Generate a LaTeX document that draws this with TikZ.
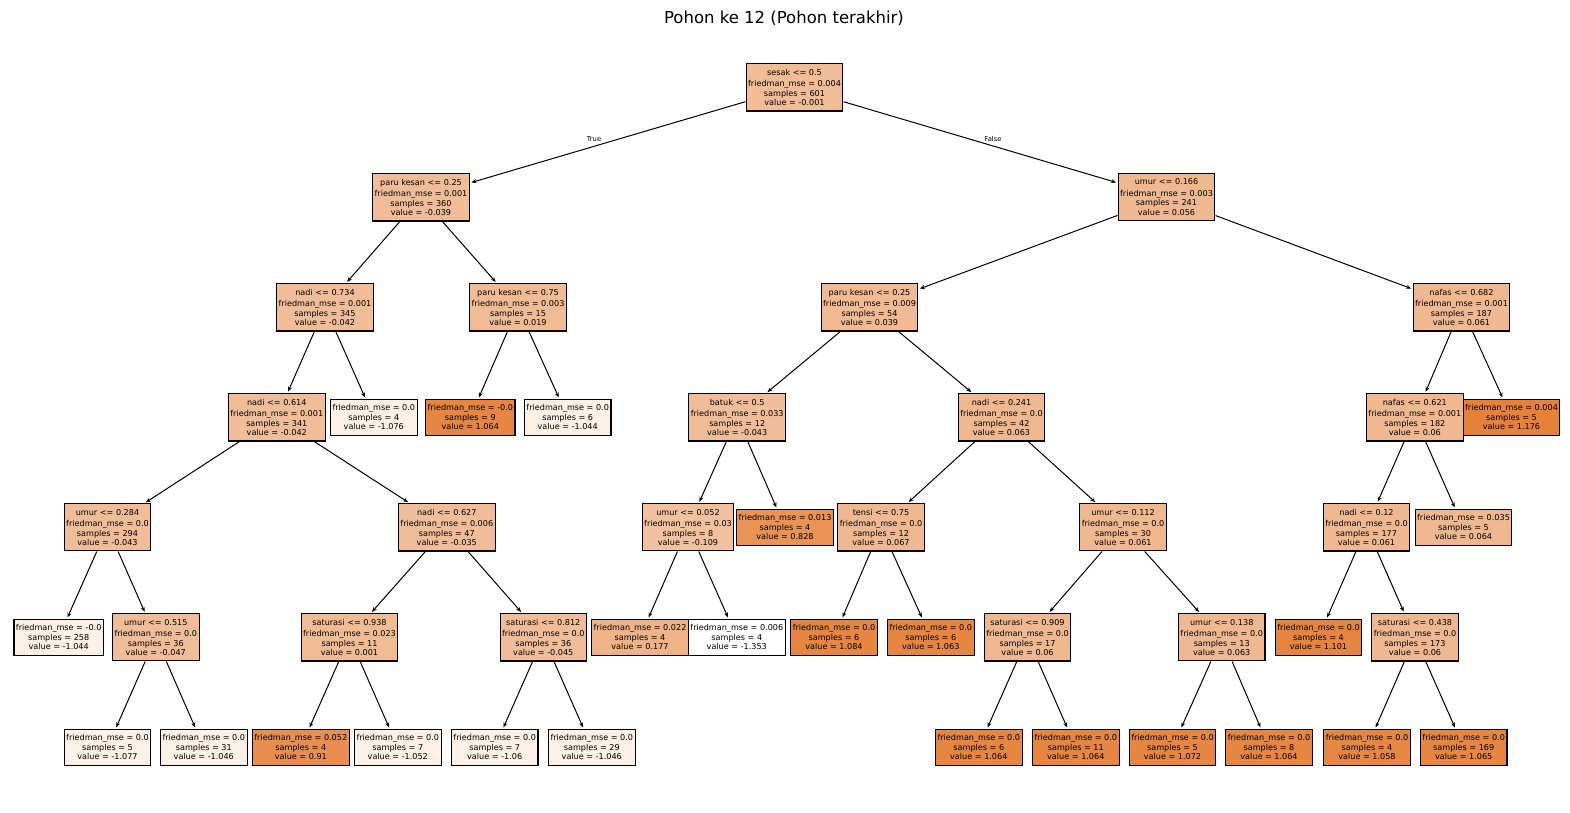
\documentclass[tikz,border=0pt]{standalone}
\usepackage{fontspec}
\setmainfont{DejaVu Sans}
\usetikzlibrary{arrows.meta}
\definecolor{skor}{RGB}{229,129,57}
\newcommand\mysplit[4]{#1\\[2pt]friedman\_mse = #2\\samples = #3\\value = #4}
\newcommand\myleaf[3]{friedman\_mse = #1\\samples = #2\\value = #3}
\tikzset{
  tn/.style={draw=black, line width=1.1pt, align=center,
    font=\fontsize{8.1}{9.5}\selectfont, inner xsep=2pt, inner ysep=5.3pt},
  v/.code={\pgfmathtruncatemacro\pct{round((#1+1.353)/2.529*100)}%
    \edef\tmpcol{\noexpand\pgfkeysalso{fill=skor!\pct!white}}\tmpcol},
  edge/.style={draw, line width=1pt, -{Stealth[length=5pt,width=4pt]}, shorten >=1.5pt},
  lbl/.style={font=\fontsize{6.8}{8}\selectfont, inner sep=0pt},
}
\begin{document}
\begin{tikzpicture}[x=1pt,y=1pt]
\useasboundingbox (0,0) rectangle (1570,812);
\node[font=\fontsize{16.5}{20}\selectfont] (title) at (784,794) {Pohon ke 12 (Pohon terakhir)};
% level 0
\node[tn,v=-0.001] (n0) at (794.5,724.7) {\mysplit{sesak <= 0.5}{0.004}{601}{-0.001}};
% level 1
\node[tn,v=-0.039] (n1) at (421,614.7) {\mysplit{paru kesan <= 0.25}{0.001}{360}{-0.039}};
\node[tn,v=0.056] (n2) at (1166.5,614.7) {\mysplit{umur <= 0.166}{0.003}{241}{0.056}};
% level 2
\node[tn,v=-0.042] (n3) at (325,504.7) {\mysplit{nadi <= 0.734}{0.001}{345}{-0.042}};
\node[tn,v=0.019] (n4) at (518,504.7) {\mysplit{paru kesan <= 0.75}{0.003}{15}{0.019}};
\node[tn,v=0.039] (n5) at (869.5,504.7) {\mysplit{paru kesan <= 0.25}{0.009}{54}{0.039}};
\node[tn,v=0.061] (n6) at (1461.5,504.7) {\mysplit{nafas <= 0.682}{0.001}{187}{0.061}};
% level 3
\node[tn,v=-0.042] (n7) at (276.8,394.7) {\mysplit{nadi <= 0.614}{0.001}{341}{-0.042}};
\node[tn,v=-1.076] (n8) at (373.8,394.7) {\myleaf{0.0}{4}{-1.076}};
\node[tn,v=1.064] (n9) at (470.3,394.7) {\myleaf{-0.0}{9}{1.064}};
\node[tn,v=-1.044] (n10) at (567.7,394.7) {\myleaf{0.0}{6}{-1.044}};
\node[tn,v=-0.043] (n11) at (737.2,394.7) {\mysplit{batuk <= 0.5}{0.033}{12}{-0.043}};
\node[tn,v=0.063] (n12) at (1001.5,394.7) {\mysplit{nadi <= 0.241}{0.0}{42}{0.063}};
\node[tn,v=0.06] (n13) at (1414.8,394.7) {\mysplit{nafas <= 0.621}{0.001}{182}{0.06}};
\node[tn,v=1.176] (n14) at (1511.5,394.7) {\myleaf{0.004}{5}{1.176}};
% level 4
\node[tn,v=-0.043] (n15) at (107.5,284.7) {\mysplit{umur <= 0.284}{0.0}{294}{-0.043}};
\node[tn,v=-0.035] (n16) at (446.8,284.7) {\mysplit{nadi <= 0.627}{0.006}{47}{-0.035}};
\node[tn,v=-0.109] (n17) at (688,284.7) {\mysplit{umur <= 0.052}{0.03}{8}{-0.109}};
\node[tn,v=0.828] (n18) at (785,284.7) {\myleaf{0.013}{4}{0.828}};
\node[tn,v=0.067] (n19) at (881,284.7) {\mysplit{tensi <= 0.75}{0.0}{12}{0.067}};
\node[tn,v=0.061] (n20) at (1123,284.7) {\mysplit{umur <= 0.112}{0.0}{30}{0.061}};
\node[tn,v=0.061] (n21) at (1366.5,284.7) {\mysplit{nadi <= 0.12}{0.0}{177}{0.061}};
\node[tn,v=0.064] (n22) at (1463.5,284.7) {\myleaf{0.035}{5}{0.064}};
% level 5
\node[tn,v=-1.044] (n23) at (58.7,174.7) {\myleaf{-0.0}{258}{-1.044}};
\node[tn,v=-0.047] (n24) at (155.8,174.7) {\mysplit{umur <= 0.515}{0.0}{36}{-0.047}};
\node[tn,v=0.001] (n25) at (349.5,174.7) {\mysplit{saturasi <= 0.938}{0.023}{11}{0.001}};
\node[tn,v=-0.045] (n26) at (543.3,174.7) {\mysplit{saturasi <= 0.812}{0.0}{36}{-0.045}};
\node[tn,v=0.177] (n27) at (640,174.7) {\myleaf{0.022}{4}{0.177}};
\node[tn,v=-1.353] (n28) at (736.8,174.7) {\myleaf{0.006}{4}{-1.353}};
\node[tn,v=1.084] (n29) at (834,174.7) {\myleaf{0.0}{6}{1.084}};
\node[tn,v=1.063] (n30) at (930.8,174.7) {\myleaf{0.0}{6}{1.063}};
\node[tn,v=0.06] (n31) at (1027.5,174.7) {\mysplit{saturasi <= 0.909}{0.0}{17}{0.06}};
\node[tn,v=0.063] (n32) at (1221.7,174.7) {\mysplit{umur <= 0.138}{0.0}{13}{0.063}};
\node[tn,v=1.101] (n33) at (1318.5,174.7) {\myleaf{0.0}{4}{1.101}};
\node[tn,v=0.06] (n34) at (1415,174.7) {\mysplit{saturasi <= 0.438}{0.0}{173}{0.06}};
% level 6
\node[tn,v=-1.077] (n35) at (107.5,64.7) {\myleaf{0.0}{5}{-1.077}};
\node[tn,v=-1.046] (n36) at (203.8,64.7) {\myleaf{0.0}{31}{-1.046}};
\node[tn,v=0.91] (n37) at (300.8,64.7) {\myleaf{0.052}{4}{0.91}};
\node[tn,v=-1.052] (n38) at (397.8,64.7) {\myleaf{0.0}{7}{-1.052}};
\node[tn,v=-1.06] (n39) at (494.7,64.7) {\myleaf{0.0}{7}{-1.06}};
\node[tn,v=-1.046] (n40) at (591.8,64.7) {\myleaf{0.0}{29}{-1.046}};
\node[tn,v=1.064] (n41) at (978.8,64.7) {\myleaf{0.0}{6}{1.064}};
\node[tn,v=1.064] (n42) at (1075.8,64.7) {\myleaf{0.0}{11}{1.064}};
\node[tn,v=1.072] (n43) at (1172.5,64.7) {\myleaf{0.0}{5}{1.072}};
\node[tn,v=1.064] (n44) at (1269,64.7) {\myleaf{0.0}{8}{1.064}};
\node[tn,v=1.058] (n45) at (1367,64.7) {\myleaf{0.0}{4}{1.058}};
\node[tn,v=1.065] (n46) at (1463.7,64.7) {\myleaf{0.0}{169}{1.065}};
% edges
\foreach \a/\b in {n0/n1,n0/n2,n1/n3,n1/n4,n2/n5,n2/n6,n3/n7,n3/n8,n4/n9,n4/n10,
  n5/n11,n5/n12,n6/n13,n6/n14,n7/n15,n7/n16,n11/n17,n11/n18,n12/n19,n12/n20,
  n13/n21,n13/n22,n15/n23,n15/n24,n16/n25,n16/n26,n17/n27,n17/n28,n19/n29,n19/n30,
  n20/n31,n20/n32,n21/n33,n21/n34,n24/n35,n24/n36,n25/n37,n25/n38,n26/n39,n26/n40,
  n31/n41,n31/n42,n32/n43,n32/n44,n34/n45,n34/n46}
  \draw[edge] (\a) -- (\b);
\node[lbl] (ltrue) at (594,673) {True};
\node[lbl] (lfalse) at (993,673) {False};
\end{tikzpicture}
\end{document}
